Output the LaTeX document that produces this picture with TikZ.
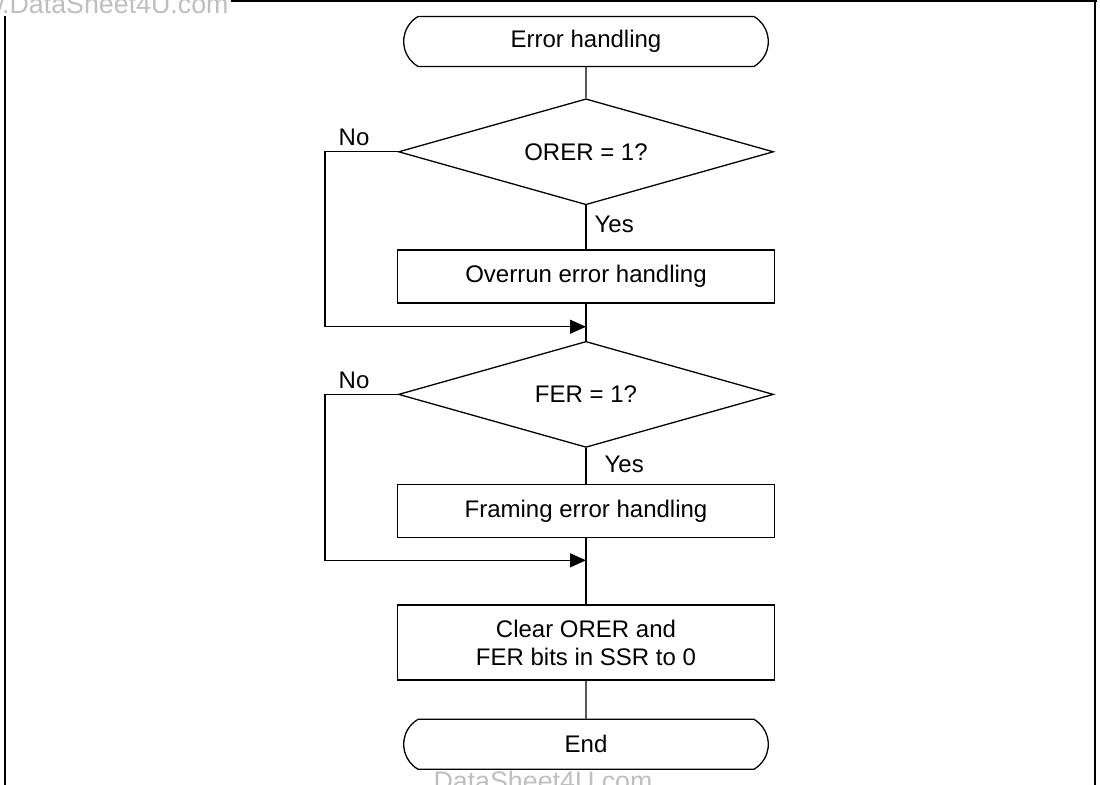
\documentclass[tikz,border=0pt]{standalone}
\usepackage{fontspec}
\setmainfont{Liberation Sans}
\usetikzlibrary{shapes.geometric, shapes.misc, arrows.meta, positioning, calc}

\begin{document}
\begin{tikzpicture}[
  x=0.5pt, y=-0.5pt,
  every node/.style={font=\fontsize{12}{14}\selectfont},
  term/.style={
    rounded rectangle, rounded rectangle arc length=120,
    draw, line width=0.65pt,
    minimum width=189pt, minimum height=25pt
  },
  decision/.style={
    diamond, aspect=3.54, draw, line width=0.65pt, inner sep=0pt,
    minimum width=187.5pt, minimum height=53pt
  },
  process/.style={
    rectangle, draw, line width=0.65pt, align=center,
    minimum width=188.5pt, minimum height=26.5pt
  },
  flow/.style={line width=0.65pt},
  arr/.style={-{Triangle[length=8pt, width=7pt]}, line width=0.65pt},
  lbl/.style={inner sep=2.5pt},
  wmark/.style={font=\fontsize{13.4}{16}\selectfont, text=black!25}
]

%% Page frame
\useasboundingbox (0,0) rectangle (1100,785);
\clip (0,0) rectangle (1100,785);
\draw[line width=1pt] (5,785) -- (5,1) -- (1097,1);
\draw[line width=1pt] (1095,1) -- (1095,785);

%% Watermarks
\node[wmark, fill=white, inner sep=1pt, anchor=base east] (wmtop) at (231,14) {www.DataSheet4U.com};
\node[wmark, anchor=base] (wmbot) at (543,791) {DataSheet4U.com};

%% Flow steps
\node[term] (start) at (586,41.5) {Error handling};
\node[decision, below=15.5pt of start] (orer) {ORER = 1?};
\node[process, below=22pt of orer] (overrun) {Overrun error handling};
\coordinate[below=11.5pt of overrun.south] (join1);
\node[decision, below=18.5pt of overrun] (fer) {FER = 1?};
\node[process, below=18pt of fer] (framing) {Framing error handling};
\coordinate[below=11pt of framing.south] (join2);
\node[process, minimum height=37.5pt, below=33pt of framing] (clear) {Clear ORER and\\FER bits in SSR to 0};
\node[term, below=19pt of clear] (stop) {End};

%% Main line
\draw[flow] (start) -- (orer);
\draw[flow] (orer) -- node[lbl, right, pos=0.42, xshift=1.5pt] (yes1) {Yes} (overrun);
\draw[flow] (overrun) -- (fer);
\draw[flow] (fer) -- node[lbl, right, pos=0.45, xshift=6.5pt] (yes2) {Yes} (framing);
\draw[flow] (framing) -- (clear);
\draw[flow] (clear) -- (stop);

%% No branches
\draw[arr] (orer.west) -- node[lbl, above, pos=0.6] (no1) {No} ++(-73,0) |- (join1);
\draw[arr] (fer.west) -- node[lbl, above, pos=0.6] (no2) {No} ++(-73,0) |- (join2);

\end{tikzpicture}
\end{document}
